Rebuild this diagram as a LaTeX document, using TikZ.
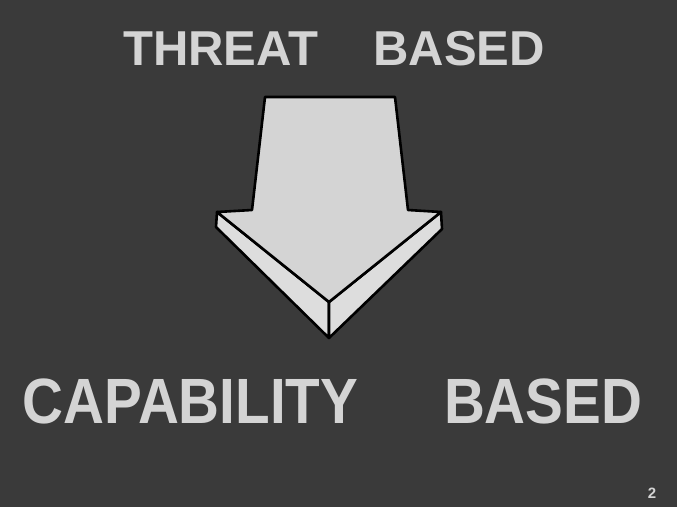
\documentclass[tikz,border=0pt]{standalone}
\usepackage{fontspec}
\usepackage{graphicx}
\setmainfont{Liberation Sans}
\definecolor{bgc}{HTML}{3A3A3A}
\definecolor{lite}{HTML}{D4D4D4}
\definecolor{litefront}{HTML}{DDDDDD}
\tikzset{
  title/.style={inner sep=0pt, anchor=base, text=lite, font=\bfseries},
  arrowface/.style={fill=lite, draw=black, line width=2.6pt, line join=round},
  arrowfront/.style={fill=litefront, draw=black, line width=2.6pt, line join=round}
}
\begin{document}
\begin{tikzpicture}[x=1pt,y=-1pt]
\fill[bgc] (0,0) rectangle (677,507);
\useasboundingbox (0,0) rectangle (677,507);
% arrow front faces
\path[arrowfront] (217,212) -- (329,302) -- (329,338) -- (216,227) -- cycle;
\path[arrowfront] (441,212) -- (329,302) -- (329,338) -- (442,229) -- cycle;
% arrow top face
\path[arrowface] (265,97) -- (395,97) -- (408,210) -- (441,212) -- (329,302) -- (217,212) -- (252,210) -- cycle;
% texts
\node[title, font=\bfseries\fontsize{49}{49}\selectfont] (threat) at (334,65) {THREAT\hspace{55pt}BASED};
\node[title] (capability) at (332.5,423) {\scalebox{0.885}[1]{\fontsize{64}{64}\selectfont\bfseries CAPABILITY\hspace{97pt}BASED}};
\node[title, font=\bfseries\fontsize{15}{15}\selectfont] (pagenum) at (652,498) {2};
\end{tikzpicture}
\end{document}
